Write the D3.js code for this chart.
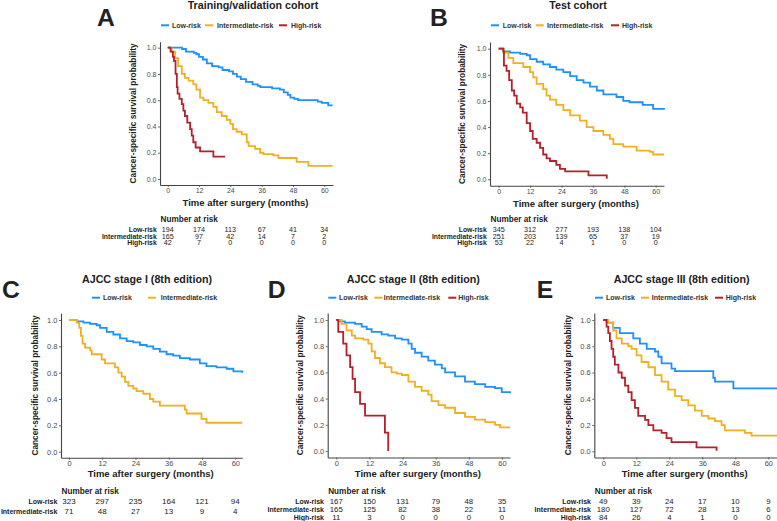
<!DOCTYPE html>
<html><head><meta charset="utf-8">
<script src="https://cdn.jsdelivr.net/npm/d3@7"></script>
<style>
body{margin:0;background:#fff;}
svg{display:block;font-family:"Liberation Sans",Arial,Helvetica,sans-serif;}
</style></head>
<body><svg id="c" width="777" height="521"></svg>
<script>
// ---------- data ----------
const timeTicks = [0, 12, 24, 36, 48, 60];
const survTicks = [0, 0.2, 0.4, 0.6, 0.8, 1.0];
const groupNames = ["Low-risk", "Intermediate-risk", "High-risk"];

// Kaplan-Meier step curves: [months, survival]
const trainLow = [[0,1],[5.5,0.99],[7,0.97],[10,0.96],[11,0.95],[12,0.93],[13.5,0.91],[15,0.88],[17,0.86],[19.5,0.85],[21,0.83],[23.5,0.82],[25,0.80],[26.5,0.78],[28,0.76],[30,0.74],[32.5,0.72],[34.5,0.71],[35.5,0.70],[40,0.69],[43,0.68],[44.5,0.66],[46,0.64],[47,0.62],[48.5,0.61],[50,0.60],[57.5,0.59],[59,0.58],[61.5,0.56],[63.2,0.56]];
const trainInt = [[0,1],[1.5,0.97],[2.8,0.92],[4,0.86],[5.4,0.80],[6.6,0.77],[8,0.75],[9.8,0.72],[11,0.68],[12.4,0.62],[13.7,0.60],[15.6,0.58],[17.5,0.55],[18.8,0.51],[20.7,0.48],[22.6,0.45],[24,0.42],[25,0.38],[26.4,0.36],[28.4,0.34],[30.3,0.28],[31,0.25],[33.5,0.23],[35.4,0.20],[36.7,0.19],[40.5,0.18],[42.4,0.16],[49.4,0.13],[53.9,0.10],[63.2,0.10]];
const trainHigh = [[0,1],[1.1,0.97],[2,0.93],[2.4,0.90],[3,0.80],[3.5,0.70],[3.8,0.65],[4.5,0.61],[5.4,0.57],[6,0.52],[6.6,0.48],[7.5,0.43],[8.6,0.38],[9.2,0.33],[9.8,0.28],[10.7,0.24],[12.4,0.21],[17.5,0.17],[22,0.17]];

const testLow = [[0,1],[1.8,0.98],[4.3,0.97],[8.2,0.96],[10.7,0.95],[12,0.92],[14.5,0.90],[17,0.88],[19.6,0.86],[22,0.84],[24.7,0.82],[27.3,0.79],[29.8,0.76],[32.4,0.74],[34.9,0.71],[37.5,0.68],[40,0.65],[45,0.63],[47.6,0.60],[50,0.59],[55,0.57],[59,0.54],[63.2,0.535]];
const testInt = [[0,1],[1.8,0.97],[3.7,0.93],[5.6,0.89],[9.4,0.86],[12,0.82],[13.2,0.78],[14.5,0.73],[17,0.69],[18.3,0.64],[19.6,0.61],[22,0.57],[24.7,0.53],[27.3,0.49],[31,0.45],[33.6,0.40],[36.2,0.37],[40,0.34],[42.5,0.31],[43.8,0.27],[47.6,0.25],[52.7,0.22],[57.8,0.21],[59,0.19],[63.2,0.19]];
const testHigh = [[0,1],[1.8,0.98],[2,0.87],[3,0.83],[4,0.76],[5,0.68],[5.9,0.64],[6.9,0.58],[8.2,0.55],[9.2,0.51],[10.7,0.43],[12,0.37],[13,0.31],[14.5,0.28],[15.8,0.24],[17,0.19],[18.3,0.16],[19.6,0.14],[22,0.11],[23.4,0.08],[25.4,0.06],[34.3,0.03],[41.3,0.005]];

const stage1Low = [[0,1],[2.8,0.99],[5.2,0.98],[7.6,0.97],[10,0.96],[11.2,0.94],[13.6,0.91],[16,0.89],[18.4,0.86],[20.8,0.84],[23.2,0.83],[25.6,0.81],[28,0.80],[30.4,0.78],[32.8,0.76],[35.2,0.74],[37.6,0.73],[40,0.71],[43.6,0.70],[47.2,0.67],[49.6,0.65],[53.2,0.64],[56.9,0.63],[59.3,0.61],[62.5,0.60]];
const stage1Int = [[0,1],[2.8,0.98],[3.7,0.94],[4.3,0.88],[4.9,0.82],[5.8,0.79],[7.6,0.77],[8.2,0.74],[11.8,0.70],[13,0.67],[16.6,0.64],[17.8,0.60],[19,0.57],[20.2,0.53],[21.4,0.50],[23.2,0.48],[24.4,0.46],[26.8,0.44],[29.2,0.40],[30.4,0.38],[32.8,0.35],[41.8,0.32],[42.4,0.29],[47.8,0.25],[49.6,0.22],[62.5,0.22]];

const stage2Low = [[0,1],[1.3,0.99],[3.1,0.98],[6.8,0.97],[9.2,0.95],[11,0.93],[12.8,0.91],[16.4,0.89],[18.8,0.88],[21.3,0.86],[23.7,0.85],[26.1,0.82],[27.3,0.78],[28.5,0.75],[30.9,0.72],[33.3,0.69],[35.7,0.66],[38.2,0.63],[39.4,0.60],[43,0.57],[46.6,0.53],[50.2,0.51],[53.9,0.49],[57.5,0.48],[59.9,0.45],[62.9,0.44]];
const stage2Int = [[0,1],[1.9,0.97],[3.7,0.92],[5.6,0.88],[6.8,0.86],[9.8,0.85],[11.6,0.82],[12.8,0.76],[14,0.71],[15.8,0.67],[17.6,0.64],[20,0.60],[21.9,0.59],[23.7,0.58],[26.1,0.53],[28.5,0.49],[30.9,0.46],[33.3,0.43],[34.5,0.38],[37,0.35],[39.4,0.33],[43,0.29],[46.6,0.26],[50.2,0.24],[53.9,0.22],[57.5,0.20],[59.3,0.18],[62.9,0.18]];
const stage2High = [[0,1],[0.7,0.91],[2.5,0.82],[3.7,0.73],[5,0.64],[5.9,0.55],[6.8,0.45],[8.6,0.36],[10.4,0.27],[17.6,0.14],[18.8,0.0]];

const stage3Low = [[0,1],[1.2,0.98],[3.6,0.94],[6,0.90],[10.9,0.86],[13.3,0.82],[15.8,0.78],[18.8,0.76],[20,0.72],[21.2,0.67],[24.8,0.63],[26.1,0.61],[40,0.56],[40.6,0.53],[47.3,0.48],[63.5,0.48]];
const stage3Int = [[0,1],[1.8,0.98],[3.6,0.92],[4.8,0.86],[6.7,0.82],[9.1,0.80],[10.3,0.78],[12.1,0.73],[13.9,0.68],[16.4,0.64],[18.8,0.58],[21.2,0.53],[23.6,0.47],[26.1,0.42],[28.5,0.39],[30.9,0.35],[33.3,0.31],[35.8,0.27],[38.2,0.25],[40.6,0.23],[43,0.20],[44.2,0.16],[51.5,0.14],[53.9,0.12],[63.5,0.12]];
const stage3High = [[0,1],[1.2,0.95],[1.8,0.90],[2.4,0.84],[3,0.78],[3.6,0.72],[4.2,0.66],[5.5,0.60],[6.7,0.56],[7.9,0.50],[9.1,0.45],[10.3,0.39],[11.5,0.33],[12.7,0.27],[15.2,0.24],[16.4,0.20],[18.2,0.16],[21.2,0.14],[23,0.10],[24.8,0.07],[33.9,0.03],[41.2,0.005]];

// numbers at risk at timeTicks
const trainRiskLow = [194, 174, 113, 67, 41, 34];
const trainRiskInt = [165, 97, 42, 14, 7, 2];
const trainRiskHigh = [42, 7, 0, 0, 0, 0];
const testRiskLow = [345, 312, 277, 193, 138, 104];
const testRiskInt = [251, 203, 139, 65, 37, 19];
const testRiskHigh = [53, 22, 4, 1, 0, 0];
const stage1RiskLow = [323, 297, 235, 164, 121, 94];
const stage1RiskInt = [71, 48, 27, 13, 9, 4];
const stage2RiskLow = [167, 150, 131, 79, 48, 35];
const stage2RiskInt = [165, 125, 82, 38, 22, 11];
const stage2RiskHigh = [11, 3, 0, 0, 0, 0];
const stage3RiskLow = [49, 39, 24, 17, 10, 9];
const stage3RiskInt = [180, 127, 72, 28, 13, 6];
const stage3RiskHigh = [84, 26, 4, 1, 0, 0];

const titles = ["Training/validation cohort", "Test cohort", "AJCC stage I (8th edition)", "AJCC stage II (8th edition)", "AJCC stage III (8th edition)"];
const letters = ["A", "B", "C", "D", "E"];

// ---------- style / layout ----------
const colors = ["#1E90FF", "#F0B020", "#B5202A"];
const FONT = '"Liberation Sans",Arial,Helvetica,sans-serif';

const panels = [
  {curves:[trainLow,trainInt,trainHigh], risk:[trainRiskLow,trainRiskInt,trainRiskHigh],
   x0:167.7,x60:324.3,left:160,right:333,y0:179,y1:47.7,top:41.7,bottom:185,
   letterX:97,letterY:26,titleX:253,titleY:9,legY:25.3,legLine:[161,205,279],legText:[172,217,291],
   ylabX:136,xtitleY:206.2,tickY:193.3,narY:222,rowY:[232,238.7,245.4],rowLabelX:156.7,numFont:7.2,labFont:6.8,tickFont:7},
  {curves:[testLow,testInt,testHigh], risk:[testRiskLow,testRiskInt,testRiskHigh],
   x0:498.7,x60:655.7,left:490,right:664,y0:179.3,y1:48.7,top:42,bottom:185.7,
   letterX:430,letterY:26,titleX:578,titleY:9,legY:25.3,legLine:[491,535.7,611],legText:[502.7,547,622],
   ylabX:465.2,xtitleY:206.5,tickY:193.8,narY:222,rowY:[232,238.7,245.4],rowLabelX:486.7,numFont:7.2,labFont:6.8,tickFont:7},
  {curves:[stage1Low,stage1Int], risk:[stage1RiskLow,stage1RiskInt],
   x0:69,x60:235.3,left:61,right:242.3,y0:451.7,y1:320,top:313.3,bottom:457.7,
   letterX:2,letterY:298.3,titleX:147,titleY:282.7,legY:297.7,legLine:[92,148],legText:[103,160.7],
   ylabX:37.6,xtitleY:476.8,tickY:466,narY:493.7,rowY:[504,514],rowLabelX:57.3,numFont:8,labFont:7,tickFont:7.5},
  {curves:[stage2Low,stage2Int,stage2High], risk:[stage2RiskLow,stage2RiskInt,stage2RiskHigh],
   x0:336.3,x60:502,left:327.7,right:510,y0:451,y1:320,top:313,bottom:457.5,
   letterX:267.7,letterY:298.3,titleX:413.3,titleY:282.7,legY:297.7,legLine:[328.3,374.3,448.3],legText:[339,383.7,458.3],
   ylabX:302.6,xtitleY:476.8,tickY:466,narY:493.7,rowY:[503.5,511.5,519.5],rowLabelX:324,numFont:7.8,labFont:7,tickFont:7.5},
  {curves:[stage3Low,stage3Int,stage3High], risk:[stage3RiskLow,stage3RiskInt,stage3RiskHigh],
   x0:603.3,x60:768.3,left:594.3,right:777,y0:451.3,y1:320,top:313,bottom:457.5,
   letterX:536.7,letterY:298.3,titleX:681.7,titleY:282.7,legY:297.7,legLine:[595,641,715],legText:[606,651.7,725.7],
   ylabX:571,xtitleY:476.8,tickY:466,narY:493.7,rowY:[503.5,511.5,519.5],rowLabelX:591,numFont:7.8,labFont:7,tickFont:7.5}
];

const svg = d3.select("#c");

panels.forEach((p, i) => {
  const g = svg.append("g");
  const x = d3.scaleLinear().domain([0, 60]).range([p.x0, p.x60]);
  const y = d3.scaleLinear().domain([0, 1]).range([p.y0, p.y1]);
  const xa = d3.scaleLinear().domain([x.invert(p.left), x.invert(p.right)]).range([p.left, p.right]);
  const ya = d3.scaleLinear().domain([y.invert(p.bottom), y.invert(p.top)]).range([p.bottom, p.top]);

  // panel letter
  g.append("text").attr("x", p.letterX).attr("y", p.letterY)
    .attr("font-size", 24.7).attr("font-weight", "bold").attr("fill", "#222").text(letters[i]);
  // title
  g.append("text").attr("x", p.titleX).attr("y", p.titleY).attr("text-anchor", "middle")
    .attr("font-size", 10.7).attr("font-weight", "bold").attr("fill", "#222").text(titles[i]);

  // legend
  p.curves.forEach((c, k) => {
    g.append("line").attr("x1", p.legLine[k]).attr("x2", p.legLine[k] + 8)
      .attr("y1", p.legY).attr("y2", p.legY).attr("stroke", colors[k]).attr("stroke-width", 2);
    g.append("text").attr("x", p.legText[k]).attr("y", p.legY).attr("dy", "0.35em")
      .attr("font-size", 7).attr("font-weight", "bold").attr("fill", "#333").text(groupNames[k]);
  });

  // axes
  const gx = g.append("g").attr("transform", `translate(0,${p.bottom})`)
    .call(d3.axisBottom(xa).tickValues(timeTicks).tickSize(2).tickSizeOuter(0).tickPadding(1.5));
  const gy = g.append("g").attr("transform", `translate(${p.left},0)`)
    .call(d3.axisLeft(ya).tickValues(survTicks).tickSize(2).tickSizeOuter(0).tickPadding(1.5).tickFormat(d3.format(".1f")));
  [gx, gy].forEach(a => {
    a.select(".domain").attr("stroke", "#444").attr("stroke-width", 1.1);
    a.selectAll(".tick line").attr("stroke", "#444").attr("stroke-width", 0.8);
    a.selectAll(".tick text").attr("fill", "#4D4D4D").attr("font-size", p.tickFont).attr("font-family", FONT);
  });
  gx.selectAll(".tick text").attr("dy", null).attr("y", p.tickY - p.bottom);

  // axis titles
  g.append("text").attr("transform", `translate(${p.ylabX},${(p.top + p.bottom) / 2}) rotate(-90)`)
    .attr("text-anchor", "middle").attr("font-size", 8.3).attr("font-weight", "bold").attr("fill", "#222")
    .text("Cancer-specific survival probability");
  g.append("text").attr("x", (p.left + p.right) / 2 - 1).attr("y", p.xtitleY).attr("text-anchor", "middle")
    .attr("font-size", 9.5).attr("font-weight", "bold").attr("fill", "#222").text("Time after surgery (months)");

  // curves
  const line = d3.line().x(d => x(d[0])).y(d => y(d[1])).curve(d3.curveStepAfter);
  p.curves.forEach((c, k) => {
    g.append("path").datum(c).attr("d", line).attr("fill", "none")
      .attr("stroke", colors[k]).attr("stroke-width", 1.8).attr("stroke-linejoin", "miter");
  });

  // risk table
  g.append("text").attr("x", p.left + 0.5).attr("y", p.narY).attr("font-size", 8.2)
    .attr("font-weight", "bold").attr("fill", "#222").text("Number at risk");
  p.risk.forEach((row, k) => {
    g.append("text").attr("x", p.rowLabelX).attr("y", p.rowY[k]).attr("text-anchor", "end")
      .attr("font-size", p.labFont).attr("font-weight", "bold").attr("fill", "#222").text(groupNames[k]);
    g.selectAll(null).data(row).join("text")
      .attr("x", (d, j) => x(timeTicks[j])).attr("y", p.rowY[k]).attr("text-anchor", "middle")
      .attr("font-size", p.numFont).attr("fill", "#222").text(d => d);
  });
});
</script></body></html>
